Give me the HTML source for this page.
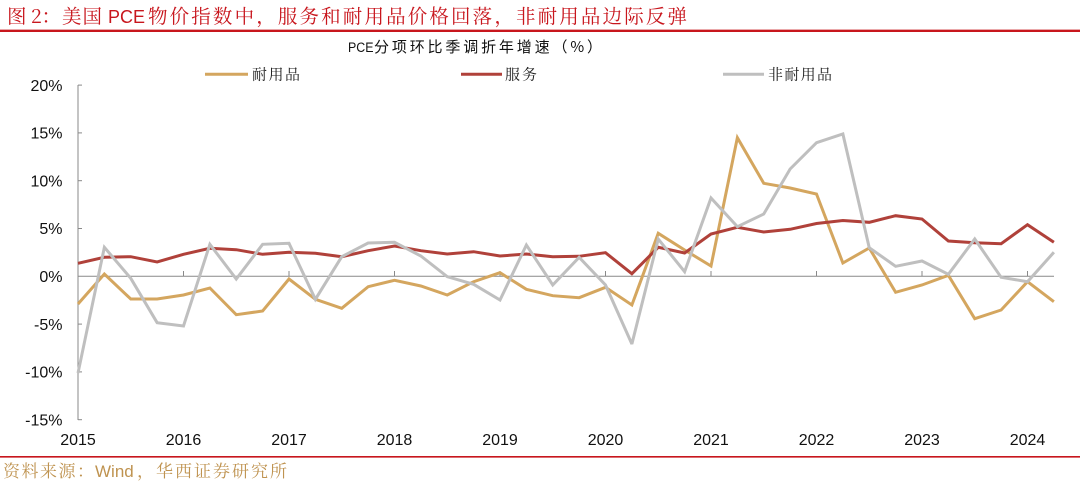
<!DOCTYPE html>
<html><head><meta charset="utf-8"><style>
html,body{margin:0;padding:0;background:#fff;}
svg{display:block;}
</style></head><body>
<svg width="1080" height="484" viewBox="0 0 1080 484" xmlns="http://www.w3.org/2000/svg">
<rect width="1080" height="484" fill="#fff"/>
<g font-family="'Noto Serif CJK SC','Liberation Serif',serif" font-size="19.5" fill="#C8161D">
<text x="7" y="23" textLength="54" lengthAdjust="spacing">图 2：</text>
<text x="62" y="23" textLength="40" lengthAdjust="spacing">美国</text>
<text x="108" y="23" font-family="'Liberation Sans',sans-serif" font-size="18">PCE</text>
<text x="148" y="23" textLength="539" lengthAdjust="spacing">物价指数中，服务和耐用品价格回落，非耐用品边际反弹</text>
</g>
<line x1="0" y1="30.8" x2="1080" y2="30.8" stroke="#C8161D" stroke-width="2.4"/>
<text x="348" y="52" font-family="'Liberation Sans',sans-serif" font-size="13.5" fill="#111" textLength="25.5" lengthAdjust="spacingAndGlyphs">PCE</text>
<text x="374" y="52" font-family="'Noto Sans CJK SC','Liberation Sans',sans-serif" font-size="15" fill="#111" textLength="228" lengthAdjust="spacing">分项环比季调折年增速（%）</text>
<g font-family="'Noto Serif CJK SC','Liberation Serif',serif" font-size="15" fill="#222">
<line x1="205" y1="74.3" x2="248" y2="74.3" stroke="#D4A65F" stroke-width="3"/>
<text x="252" y="79.5" textLength="48" lengthAdjust="spacing">耐用品</text>
<line x1="461" y1="74.3" x2="502" y2="74.3" stroke="#B0413A" stroke-width="3"/>
<text x="505" y="79.5" textLength="32" lengthAdjust="spacing">服务</text>
<line x1="723" y1="74.3" x2="764" y2="74.3" stroke="#BFBFBF" stroke-width="3"/>
<text x="768" y="79.5" textLength="64" lengthAdjust="spacing">非耐用品</text>
</g>
<g stroke="#898989" stroke-width="1" fill="none">
<line x1="78" y1="85" x2="78" y2="420"/>
<line x1="78" y1="85.1" x2="82" y2="85.1"/>
<line x1="78" y1="132.9" x2="82" y2="132.9"/>
<line x1="78" y1="180.7" x2="82" y2="180.7"/>
<line x1="78" y1="228.5" x2="82" y2="228.5"/>
<line x1="78" y1="324.1" x2="82" y2="324.1"/>
<line x1="78" y1="371.9" x2="82" y2="371.9"/>
<line x1="78" y1="419.7" x2="82" y2="419.7"/>
<line x1="78" y1="276.3" x2="1054" y2="276.3"/>
<line x1="183.5" y1="276.3" x2="183.5" y2="271"/>
<line x1="289" y1="276.3" x2="289" y2="271"/>
<line x1="394.5" y1="276.3" x2="394.5" y2="271"/>
<line x1="500" y1="276.3" x2="500" y2="271"/>
<line x1="605.5" y1="276.3" x2="605.5" y2="271"/>
<line x1="711" y1="276.3" x2="711" y2="271"/>
<line x1="816.5" y1="276.3" x2="816.5" y2="271"/>
<line x1="922" y1="276.3" x2="922" y2="271"/>
<line x1="1027.5" y1="276.3" x2="1027.5" y2="271"/>
</g>
<g font-family="'Liberation Sans',Arial,sans-serif" font-size="16" fill="#111" text-anchor="end">
<text x="62.5" y="90.8">20%</text>
<text x="62.5" y="138.6">15%</text>
<text x="62.5" y="186.4">10%</text>
<text x="62.5" y="234.2">5%</text>
<text x="62.5" y="282">0%</text>
<text x="62.5" y="329.8">-5%</text>
<text x="62.5" y="377.6">-10%</text>
<text x="62.5" y="425.4">-15%</text>
</g>
<g font-family="'Liberation Sans',Arial,sans-serif" font-size="16" fill="#111" text-anchor="middle">
<text x="78" y="445">2015</text>
<text x="183.5" y="445">2016</text>
<text x="289" y="445">2017</text>
<text x="394.5" y="445">2018</text>
<text x="500" y="445">2019</text>
<text x="605.5" y="445">2020</text>
<text x="711" y="445">2021</text>
<text x="816.5" y="445">2022</text>
<text x="922" y="445">2023</text>
<text x="1027.5" y="445">2024</text>
</g>
<g fill="none" stroke-width="3" stroke-linejoin="miter" stroke-miterlimit="3">
<polyline stroke="#D4A65F" points="78,304 104.38,274 130.75,299 157.13,299 183.5,295 209.88,288 236.25,314.7 262.63,311 289,279 315.38,299.3 341.75,308.3 368.13,286.7 394.5,280.3 420.88,286 447.25,295 473.63,281.7 500,272.7 526.38,289.3 552.75,295.7 579.13,297.7 605.5,287.3 631.88,305 658.25,233.3 684.63,250 711,266 737.38,137.7 763.75,183.3 790.13,188 816.5,194 842.88,263 869.25,248 895.63,292.3 922,285 948.38,275.3 974.75,318.7 1001.13,310 1027.5,281.7 1053.88,301.7"/>
<polyline stroke="#B0413A" points="78,263.3 104.38,257.3 130.75,256.7 157.13,262 183.5,254.3 209.88,248.3 236.25,249.7 262.63,254.3 289,252.3 315.38,253.3 341.75,256.7 368.13,250.7 394.5,246 420.88,250.7 447.25,254 473.63,251.7 500,256 526.38,254 552.75,256.7 579.13,256.3 605.5,252.7 631.88,273.7 658.25,247.3 684.63,253 711,234 737.38,227.3 763.75,232 790.13,229.3 816.5,223.5 842.88,220.5 869.25,222.3 895.63,215.7 922,219 948.38,241 974.75,242.7 1001.13,243.7 1027.5,224.7 1053.88,242.3"/>
<polyline stroke="#BFBFBF" points="78,373 104.38,247.3 130.75,278.3 157.13,322.7 183.5,326 209.88,244.3 236.25,279 262.63,244.3 289,243.3 315.38,299.3 341.75,256.7 368.13,243 394.5,242.3 420.88,256 447.25,276.7 473.63,284.3 500,300 526.38,245 552.75,285 579.13,257.3 605.5,285 631.88,344 658.25,239 684.63,271.7 711,198 737.38,226.7 763.75,214 790.13,169 816.5,142.7 842.88,134 869.25,247.7 895.63,266.3 922,261 948.38,274.3 974.75,239 1001.13,277.3 1027.5,281.7 1053.88,252.3"/>
</g>
<line x1="0" y1="456.8" x2="1080" y2="456.8" stroke="#C8161D" stroke-width="1.6"/>
<g font-size="17" fill="#BF9350">
<text x="3" y="477" font-family="'Noto Serif CJK SC','Liberation Serif',serif" textLength="91" lengthAdjust="spacing">资料来源：</text>
<text x="95" y="477" font-family="'Liberation Sans',sans-serif">Wind</text>
<text x="137" y="477" font-family="'Noto Serif CJK SC','Liberation Serif',serif" textLength="150" lengthAdjust="spacing">，华西证券研究所</text>
</g>
</svg>
</body></html>
